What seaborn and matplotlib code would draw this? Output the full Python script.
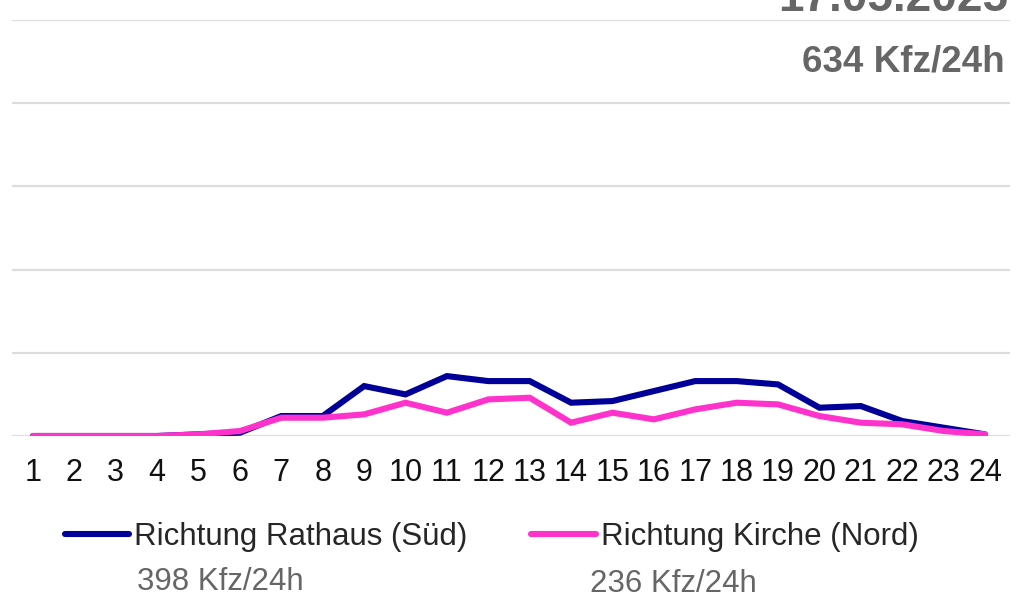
import pandas as pd
import seaborn as sns
import matplotlib.pyplot as plt

hours = list(range(1, 25))
sued = [0, 0, 0, 0, 1, 2, 12, 12, 30, 25, 36, 33, 33, 20, 21, 27, 33, 33, 31, 17, 18, 9, 5, 1]
nord = [0, 0, 0, 0, 1, 3, 11, 11, 13, 20, 14, 22, 23, 8, 14, 10, 16, 20, 19, 12, 8, 7, 3, 1]
series = ["Richtung Rathaus (Süd)", "Richtung Kirche (Nord)"]
totals = ["398 Kfz/24h", "236 Kfz/24h"]
colors = ["#000099", "#ff33cc"]
title = "17.05.2025"
subtitle = "634 Kfz/24h"

df = pd.DataFrame({
    "Stunde": hours * 2,
    "Kfz": sued + nord,
    "Richtung": [series[0]] * 24 + [series[1]] * 24,
})

sns.set_style("white")
plt.rcParams["font.family"] = ["Liberation Sans", "DejaVu Sans"]

fig = plt.figure(figsize=(10.36, 5.97), dpi=100)
ax = fig.add_axes([12 / 1036, 161 / 597, 998 / 1036, 416 / 597])

sns.lineplot(data=df, x="Stunde", y="Kfz", hue="Richtung", palette=colors,
             linewidth=4.4, ax=ax, legend=False)
for ln in ax.lines:
    ln.set_solid_capstyle("round")
    ln.set_solid_joinstyle("miter")

ax.set_xlim(0.4926, 24.604)
ax.set_ylim(0, 250)
ax.set_yticks(range(0, 251, 50))
ax.yaxis.grid(True, color="#dddddd", linewidth=1.6)
ax.set_axisbelow(True)
ax.tick_params(axis="y", left=False, labelleft=False)
ax.set_xticks(hours)
ax.tick_params(axis="x", bottom=False, labelsize=22, pad=12, labelcolor="#111111")
for s in ax.spines.values():
    s.set_visible(False)
ax.set_xlabel("")
ax.set_ylabel("")

fig.legend(ax.lines, series, loc="center left", bbox_to_anchor=(65 / 1036, 1 - 537 / 597),
           ncol=2, frameon=False, fontsize=22.5, handlelength=2.06, handletextpad=0.16,
           columnspacing=2.03, borderpad=0, borderaxespad=0)

fig.text(137 / 1036, 1 - 590 / 597, totals[0], fontsize=22.5, color="#666666", va="baseline")
fig.text(590 / 1036, 1 - 592 / 597, totals[1], fontsize=22.5, color="#666666", va="baseline")

fig.text(1008 / 1036, 1 - 11 / 597, title, fontsize=33, fontweight="bold", color="#666666",
         ha="right", va="baseline")
fig.text(1005 / 1036, 1 - 72 / 597, subtitle, fontsize=26.5, fontweight="bold", color="#666666",
         ha="right", va="baseline")

fig.savefig("out.png", dpi=100)
